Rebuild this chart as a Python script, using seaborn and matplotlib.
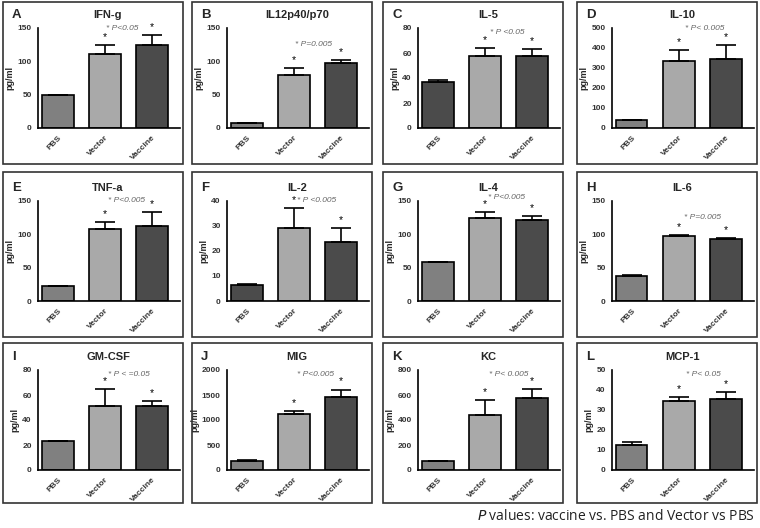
import matplotlib
matplotlib.use("Agg")
import matplotlib.pyplot as plt
import seaborn as sns
from matplotlib.patches import Rectangle

sns.set_style("white")
plt.rcParams["font.family"] = ["Liberation Sans", "DejaVu Sans"]

groups = ["PBS", "Vector", "Vaccine"]

letters = list("ABCDEFGHIJKL")
titles = ["IFN-g", "IL12p40/p70", "IL-5", "IL-10",
          "TNF-a", "IL-2", "IL-4", "IL-6",
          "GM-CSF", "MIG", "KC", "MCP-1"]
means = [
    [49, 111, 124],
    [7, 79, 97],
    [37, 58, 58],
    [42, 333, 347],
    [23, 108, 112],
    [6.5, 29, 23.5],
    [58, 125, 122],
    [38, 97, 93],
    [23, 51, 51],
    [180, 1120, 1460],
    [70, 440, 580],
    [12.5, 34.5, 35.5],
]
errors = [
    [0, 13, 16],
    [0, 11, 5],
    [1.5, 6, 5],
    [0, 55, 70],
    [0, 10, 21],
    [0.5, 8, 5.5],
    [1, 8, 5],
    [1, 2, 2],
    [0.5, 14, 4],
    [15, 60, 150],
    [0, 120, 70],
    [1.5, 2, 3.5],
]
ymax = [150, 150, 80, 500, 150, 40, 150, 150, 80, 2000, 800, 50]
ystep = [50, 50, 20, 100, 50, 10, 50, 50, 20, 500, 200, 10]
pvals = ["* P<0.05", "* P=0.005", "* P <0.05", "* P< 0.005",
         "* P<0.005", "* P <0.005", "* P<0.005", "* P=0.005",
         "* P < =0.05", "* P<0.005", "* P< 0.005", "* P< 0.05"]
dark_pbs = ["C", "F"]

# layout (pixels)
W, H = 760, 528
box_left = [3, 192, 383, 577]
box_w = 180
box_top = [2, 172, 343]
box_bot = [164, 337, 503]
ax_top = [28, 201, 370]
ax_h = 100
p_pos = [(0.59, 1.0), (0.61, 0.83), (0.63, 0.96), (0.65, 0.99),
         (0.62, 1.0), (0.63, 1.0), (0.62, 1.03), (0.64, 0.83),
         (0.64, 0.95), (0.62, 0.95), (0.64, 0.95), (0.64, 0.95)]

mid, light, dark = "#808080", "#a9a9a9", "#4b4b4b"

fig = plt.figure(figsize=(W / 100, H / 100), dpi=100)

for k in range(12):
    r, c = divmod(k, 4)
    bl = box_left[c]
    fig.patches.append(Rectangle((bl / W, 1 - box_bot[r] / H), box_w / W,
                                 (box_bot[r] - box_top[r]) / H,
                                 transform=fig.transFigure, fill=False,
                                 edgecolor="#333333", linewidth=1.2))
    ax = fig.add_axes([(bl + 35) / W, 1 - (ax_top[r] + ax_h) / H, 142 / W, ax_h / H])
    cols = [dark if letters[k] in dark_pbs else mid, light, dark]
    sns.barplot(x=groups, y=means[k], hue=groups, palette=cols, legend=False,
                ax=ax, width=0.67, edgecolor="black", linewidth=1.2, saturation=1)
    ax.errorbar(range(3), means[k], yerr=[[0, 0, 0], errors[k]], fmt="none",
                ecolor="black", elinewidth=1.2, capsize=7, capthick=1.2)
    for i in (1, 2):
        ax.text(i, means[k][i] + errors[k][i] + ymax[k] * 0.03, "*",
                ha="center", va="bottom", fontsize=7.5, color="black")
    ax.set_xlim(-0.42, 2.6)
    ax.set_ylim(0, ymax[k])
    ax.set_yticks(range(0, ymax[k] + 1, ystep[k]))
    ax.tick_params(axis="both", direction="out", length=3, width=1,
                   labelsize=6, pad=1.5, color="black")
    ax.set_xticks(range(3))
    ax.set_xticklabels(groups, rotation=45, ha="right", rotation_mode="anchor",
                       fontweight="bold", color="#333333")
    for lab in ax.get_yticklabels():
        lab.set_fontweight("bold")
        lab.set_color("#333333")
    ax.set_xlabel("")
    ax.set_ylabel("pg/ml", fontsize=6.5, fontweight="bold", labelpad=2)
    sns.despine(ax=ax)
    for s in ("left", "bottom"):
        ax.spines[s].set_color("black")
        ax.spines[s].set_linewidth(1.2)
    ax.text(p_pos[k][0], p_pos[k][1], pvals[k], transform=ax.transAxes,
            ha="center", va="center", fontsize=6, style="italic", color="#666666")
    fig.text((bl + 9) / W, 1 - (ax_top[r] - 13) / H, letters[k],
             fontsize=9.5, fontweight="bold", ha="left", va="center")
    fig.text((bl + 105) / W, 1 - (ax_top[r] - 13) / H, titles[k],
             fontsize=8, fontweight="bold", ha="center", va="center")

fig.text(755 / W, 1 - 516 / H, r"$\it{P}$ values: vaccine vs. PBS and Vector vs PBS",
         ha="right", va="center", fontsize=10, family="Open Sans", color="#222222")

fig.savefig("out.png", dpi=100)
